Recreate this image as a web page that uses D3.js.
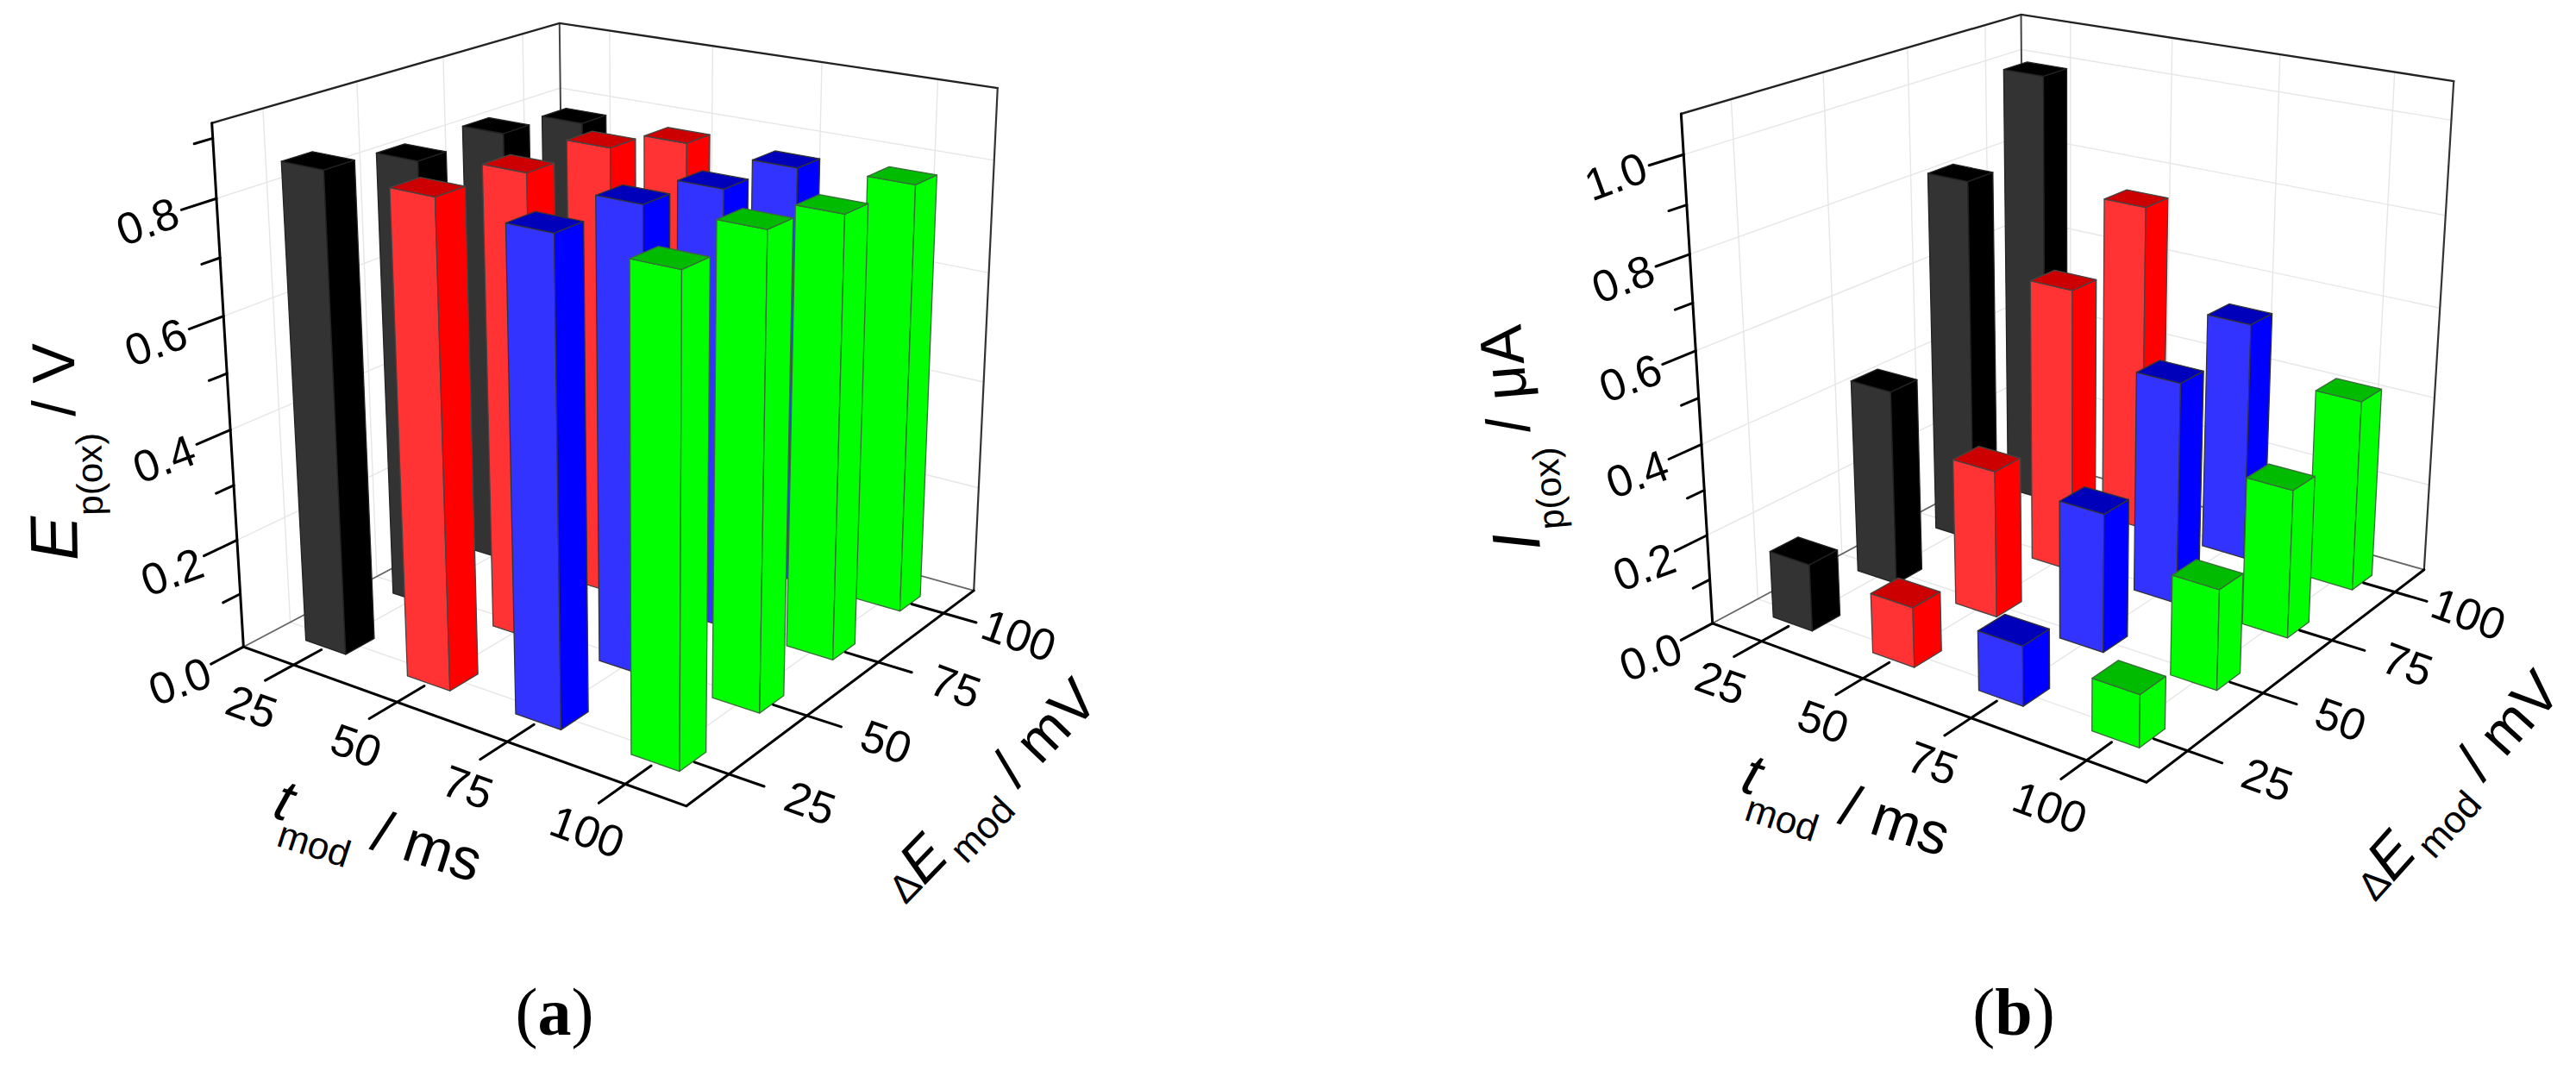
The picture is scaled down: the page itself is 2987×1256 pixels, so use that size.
<!DOCTYPE html>
<html><head><meta charset="utf-8">
<style>html,body{margin:0;padding:0;background:#fff}svg{display:block}text{font-family:"Liberation Sans",Arial,sans-serif;fill:#000}</style>
<script src="https://cdn.jsdelivr.net/npm/d3@7"></script>
</head><body><svg id="c" width="2987" height="1256" viewBox="0 0 2987 1256"></svg>
<script>
// ---- data ----
const tMod = [25, 50, 75, 100];
const eMod = [25, 50, 75, 100];
const seriesTMod = ["25", "50", "75", "100"];
const colorFront = ["#333333", "#ff3333", "#3333ff", "#00ff00"];
const colorSide  = ["#000000", "#ff0000", "#0000ff", "#00ff00"];
const colorTop   = ["#000000", "#cc0000", "#0000bb", "#00bb00"];
const edgeColor  = ["#222222", "#444444", "#333333", "#3a6a3a"];

// rows: t_mod, columns: dE_mod = 25,50,75,100
const ePeak25  = [0.855, 0.818, 0.816, 0.786];
const ePeak50  = [0.848, 0.834, 0.825, 0.783];
const ePeak75  = [0.830, 0.819, 0.790, 0.774];
const ePeak100 = [0.815, 0.818, 0.786, 0.781];
const iPeak25  = [0.150, 0.440, 0.828, 1.000];
const iPeak50  = [0.132, 0.328, 0.640, 0.752];
const iPeak75  = [0.130, 0.305, 0.495, 0.542];
const iPeak100 = [0.112, 0.218, 0.328, 0.430];

const zTicksA = [0,0.1,0.2,0.3,0.4,0.5,0.6,0.7,0.8,0.9];
const zTicksB = [0,0.1,0.2,0.3,0.4,0.5,0.6,0.7,0.8,0.9,1.0];

// ---- panel calibration: screen position of the plot box corners ----
const boxA = {A:[282,748],B:[797,936],C:[1129,684],D:[655,555],At:[245,144],Dt:[650,26],Ct:[1156,102]};
const boxB = {A:[1986,723],B:[2489,907],C:[2811,661],D:[2347,529],At:[1949,132],Dt:[2344,17],Ct:[2845,94]};

function solve(M, b){
  const n=b.length, a=M.map((r,i)=>[...r,b[i]]);
  for(let i=0;i<n;i++){
    let p=i; for(let k=i+1;k<n;k++) if(Math.abs(a[k][i])>Math.abs(a[p][i])) p=k;
    [a[i],a[p]]=[a[p],a[i]];
    for(let k=i+1;k<n;k++){const f=a[k][i]/a[i][i]; for(let j=i;j<=n;j++) a[k][j]-=f*a[i][j];}
  }
  const x=new Array(n).fill(0);
  for(let i=n-1;i>=0;i--){let s=a[i][n]; for(let j=i+1;j<n;j++) s-=a[i][j]*x[j]; x[i]=s/a[i][i];}
  return x;
}
function camera(box){
  const pts=[[0,0,0,box.A],[1,0,0,box.B],[1,1,0,box.C],[0,1,0,box.D],[0,0,1,box.At],[0,1,1,box.Dt],[1,1,1,box.Ct]];
  const o=box.A, S=1000, rows=[], rhs=[];
  pts.forEach(([X,Y,Z,[u0,v0]])=>{
    const u=(u0-o[0])/S, v=(v0-o[1])/S;
    rows.push([X,Y,Z,1,0,0,0,0,-u*X,-u*Y,-u*Z]); rhs.push(u);
    rows.push([0,0,0,0,X,Y,Z,1,-v*X,-v*Y,-v*Z]); rhs.push(v);
  });
  const N=rows[0].map((_,i)=>rows[0].map((_,j)=>d3.sum(rows,r=>r[i]*r[j])));
  const g=rows[0].map((_,i)=>d3.sum(rows,(r,k)=>r[i]*rhs[k]));
  const p=solve(N,g);
  return (X,Y,Z)=>{
    const w=p[8]*X+p[9]*Y+p[10]*Z+1;
    return [o[0]+S*(p[0]*X+p[1]*Y+p[2]*Z+p[3])/w, o[1]+S*(p[4]*X+p[5]*Y+p[6]*Z+p[7])/w];
  };
}

const svg=d3.select("#c");
const poly=d3.line().curve(d3.curveLinearClosed);
const seg=d3.line();

function panel(cfg){
  const g=svg.append("g");
  const cam=camera(cfg.box);
  const tS=d3.scaleLinear().domain([cfg.lo,cfg.lo+100]).range([0,1]);
  const eS=d3.scaleLinear().domain([cfg.lo,cfg.lo+100]).range([0,1]);
  const zS=d3.scaleLinear().domain([0,cfg.zMax]).range([0,1]);
  const P=(t,e,z)=>cam(tS(t),eS(e),zS(z));
  const [t0,t1]=tS.domain(), [e0,e1]=eS.domain(), zM=cfg.zMax;
  const line=(pts,stroke,w)=>g.append("path").attr("d",seg(pts)).attr("fill","none").attr("stroke",stroke).attr("stroke-width",w).attr("stroke-linecap","round");

  // grid
  const grid=g.append("g").attr("fill","none").attr("stroke","#e6e6e6").attr("stroke-width",1.4);
  const gl=p=>grid.append("path").attr("d",seg(p));
  tMod.forEach(t=>{gl([P(t,e0,0),P(t,e1,0)]);gl([P(t,e1,0),P(t,e1,zM)]);});
  eMod.forEach(e=>{gl([P(t0,e,0),P(t1,e,0)]);gl([P(t0,e,0),P(t0,e,zM)]);});
  cfg.zTicks.filter(z=>z>0 && Math.round(z*10)%2===0).forEach(z=>{gl([P(t0,e0,z),P(t0,e1,z),P(t1,e1,z)]);});

  // back frame
  line([P(t0,e0,0),P(t0,e1,0),P(t1,e1,0)],"#666",1.8);
  line([P(t0,e1,0),P(t0,e1,zM)],"#444",2);
  line([P(t0,e0,zM),P(t0,e1,zM),P(t1,e1,zM)],"#222",2.4);
  line([P(t1,e1,zM),P(t1,e1,0)],"#333",2.2);

  // bars, far to near
  const tw=cfg.tw/2, ew=cfg.ew/2;
  const bars=[];
  tMod.forEach((t,i)=>eMod.forEach((e,j)=>bars.push({t,e,i,v:cfg.values[i][j]})));
  bars.sort((a,b)=>(a.t-a.e)-(b.t-b.e));
  const bg=g.selectAll("g.bar").data(bars).join("g").attr("class","bar")
    .attr("stroke-linejoin","round").attr("stroke-width",1.3);
  const face=(fn,col)=>bg.append("path").attr("d",d=>poly(fn(d)))
    .attr("fill",d=>col[d.i]).attr("stroke",d=>edgeColor[d.i]);
  face(d=>[P(d.t-tw,d.e-ew,0),P(d.t+tw,d.e-ew,0),P(d.t+tw,d.e-ew,d.v),P(d.t-tw,d.e-ew,d.v)],colorFront);
  face(d=>[P(d.t+tw,d.e-ew,0),P(d.t+tw,d.e+ew,0),P(d.t+tw,d.e+ew,d.v),P(d.t+tw,d.e-ew,d.v)],colorSide);
  face(d=>[P(d.t-tw,d.e-ew,d.v),P(d.t+tw,d.e-ew,d.v),P(d.t+tw,d.e+ew,d.v),P(d.t-tw,d.e+ew,d.v)],colorTop);

  // front axes
  line([P(t0,e0,zM),P(t0,e0,0),P(t1,e0,0),P(t1,e1,0)],"#000",3);

  // z ticks
  cfg.zTicks.forEach(z=>{
    const major=Math.round(z*10)%2===0;
    line([P(t0,e0,z),P(t0,e0-(major?8.5:4.5),z)],"#000",3);
  });
  const fs=52;
  const lab=(p,txt,rot)=>g.append("text").attr("transform",`translate(${p[0]},${p[1]}) rotate(${rot})`)
    .attr("text-anchor","middle").attr("dy","0.36em").attr("font-size",fs).text(txt);
  cfg.zTicks.filter(z=>Math.round(z*10)%2===0).forEach(z=>lab(P(t0,e0-16.5,z),d3.format(".1f")(z),-20));
  // t ticks
  tMod.forEach(t=>{
    line([P(t,e0-7.5,0),P(t,e0+7.5,0)],"#000",3);
    const p=P(t+1,e0-12,0); lab([p[0],p[1]+17],String(t),20);
  });
  // dE ticks
  eMod.forEach(e=>{
    line([P(t1-7,e,0),P(t1+7,e,0)],"#000",3);
    lab(P(t1+16,e,0),String(e),20);
  });

  // axis titles
  const title=(spec,parts)=>{
    const tx=g.append("text").attr("transform",`translate(${spec.x},${spec.y}) rotate(${spec.r})`);
    parts.forEach(p=>{
      const s=tx.append("tspan").text(p.s).attr("font-size",p.fs||70);
      if(p.it) s.attr("font-style","italic");
      if(p.dy) s.attr("dy",p.dy);
      if(p.dx) s.attr("dx",p.dx);
    });
  };
  title(cfg.zTitle,cfg.zParts);
  title(cfg.tTitle,[{s:"t",it:1,fs:68},{s:"mod",fs:44,dy:30,dx:-4},{s:" / ms",fs:68,dy:-30}]);
  title(cfg.eTitle,[{s:"Δ",fs:46},{s:"E",it:1,fs:68},{s:" mod",fs:44,dy:18,dx:-6},{s:" / mV",fs:68,dy:-18}]);

  // panel label
  const pl=g.append("text").attr("x",cfg.labelX).attr("y",1200).attr("text-anchor","middle")
    .attr("font-size",78).style("font-family",'"Liberation Serif",serif');
  pl.append("tspan").text("(");
  pl.append("tspan").attr("font-weight","bold").text(cfg.label);
  pl.append("tspan").text(")");
}

panel({box:boxA,lo:12.3,zMax:0.925,zTicks:zTicksA,tw:10,ew:8,label:"a",labelX:643,
  values:[ePeak25,ePeak50,ePeak75,ePeak100],
  zTitle:{x:90,y:650,r:-91},
  zParts:[{s:"E",it:1,fs:78},{s:"p(ox)",fs:42,dy:30},{s:" / V",fs:70,dy:-30}],
  tTitle:{x:314,y:947,r:18},eTitle:{x:1050,y:1050,r:-46}});
panel({box:boxB,lo:12.3,zMax:1.08,zTicks:zTicksB,tw:10,ew:8,label:"b",labelX:2335,
  values:[iPeak25,iPeak50,iPeak75,iPeak100],
  zTitle:{x:1786,y:637,r:-95},
  zParts:[{s:"I",it:1,fs:78},{s:"p(ox)",fs:42,dy:30},{s:" / μA",fs:70,dy:-30}],
  tTitle:{x:2016,y:917,r:18},eTitle:{x:2754,y:1047,r:-48}});
</script></body></html>
